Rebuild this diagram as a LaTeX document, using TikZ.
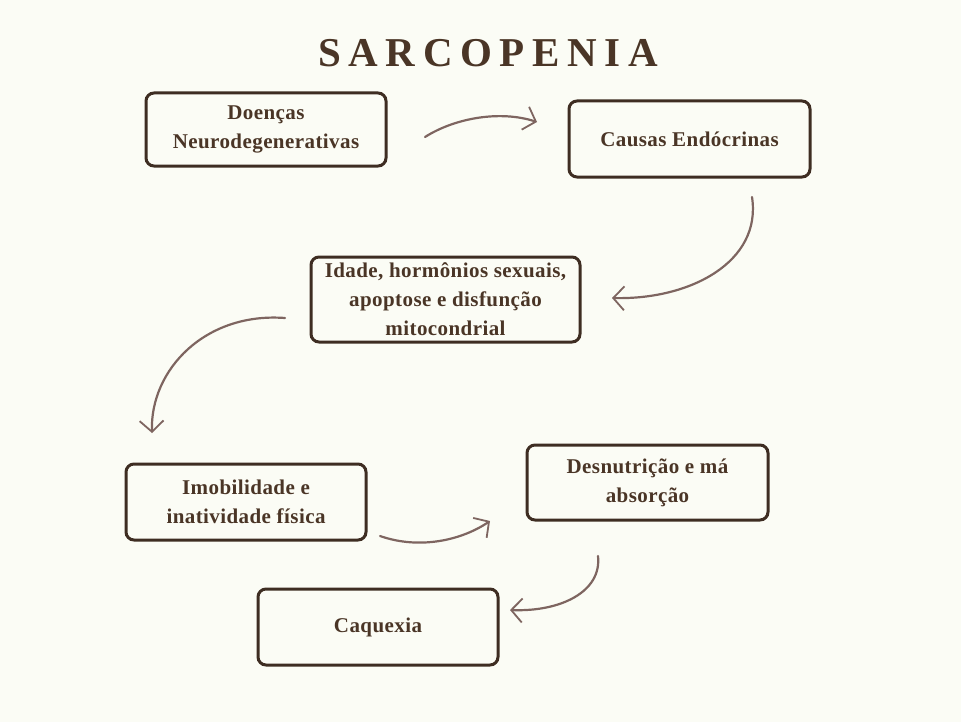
\documentclass[tikz,border=0pt]{standalone}
\usepackage{fontspec}
\setmainfont{Liberation Serif}
\usetikzlibrary{arrows.meta}
\definecolor{bgc}{HTML}{FBFCF5}
\definecolor{ink}{HTML}{4A3526}
\definecolor{frame}{HTML}{3E2D22}
\definecolor{arr}{HTML}{7E6560}
\tikzset{
  box/.style={draw=frame, line width=3bp, rounded corners=8bp, fill=bgc,
    text=ink, font=\bfseries\fontsize{21bp}{29bp}\selectfont\addfontfeature{LetterSpace=2}, align=center, inner sep=0pt},
  curvearrow/.style={draw=arr, line width=2.2bp, line cap=round,
    -{Straight Barb[length=11bp,width=24bp,line width=1.8bp]}}
}
\begin{document}
\begin{tikzpicture}[x=1bp,y=-1bp]
\fill[bgc] (0,0) rectangle (961,722);
\useasboundingbox (0,0) rectangle (961,722);
\node[text=ink, font=\bfseries\fontsize{41bp}{41bp}\selectfont\addfontfeature{LetterSpace=18.5}] (title) at (488,53) {SARCOPENIA};

\node[box, minimum width=240bp, minimum height=73bp] (b1) at (266,129.5) {Doenças\\Neurodegenerativas};
\node[box, minimum width=241bp, minimum height=76bp] (b2) at (689.5,139) {Causas Endócrinas};
\node[box, minimum width=269bp, minimum height=85bp] (b3) at (445.5,299.5) {Idade, hormônios sexuais,\\apoptose e disfunção\\mitocondrial};
\node[box, minimum width=240bp, minimum height=76bp] (b4) at (246,502) {Imobilidade e\\inatividade física};
\node[box, minimum width=241bp, minimum height=75bp] (b5) at (647.5,482.5) {Desnutrição e má\\absorção};
\node[box, minimum width=240bp, minimum height=76bp] (b6) at (378,627) {Caquexia};

\coordinate (a1s) at (425,137);
\coordinate (a1e) at (537,122);
\coordinate (a2s) at (752,197);
\coordinate (a2e) at (612,298);
\coordinate (a3s) at (285,318);
\coordinate (a3e) at (152,433);
\coordinate (a4s) at (380,536);
\coordinate (a4e) at (490,521);
\coordinate (a5s) at (598,556);
\coordinate (a5e) at (510,610);

\draw[curvearrow] (a1s) .. controls (455,118) and (500,110) .. (a1e);
\draw[curvearrow] (a2s) .. controls (762,262) and (690,300) .. (a2e);
\draw[curvearrow] (a3s) .. controls (205,312) and (150,370) .. (a3e);
\draw[curvearrow] (a4s) .. controls (420,550) and (462,540) .. (a4e);
\draw[curvearrow] (a5s) .. controls (602,592) and (560,612) .. (a5e);
\end{tikzpicture}
\end{document}
